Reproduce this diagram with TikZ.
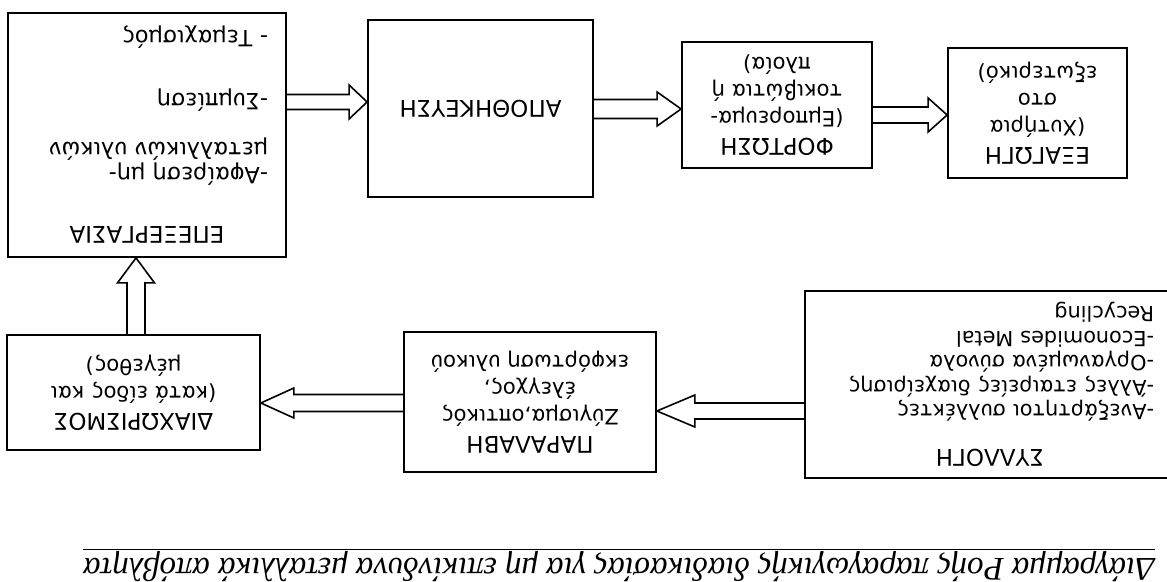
\documentclass[tikz,border=0pt]{standalone}
\usepackage{fontspec}
\setmainfont{DejaVu Sans}
\newfontfamily\captionfont{Liberation Serif}
\usepackage{tikz}
\usetikzlibrary{calc}

% hollow block arrow: shaft half width, head half width, head length
\tikzset{
    bigarrow/.style n args={3}{line width=0.8pt, to path={
        ($(\tikztostart)!#1!90:(\tikztotarget)$)
        -- ($($(\tikztotarget)!#3!(\tikztostart)$)!#1!-90:(\tikztostart)$)
        -- ($($(\tikztotarget)!#3!(\tikztostart)$)!#2!-90:(\tikztostart)$)
        -- (\tikztotarget)
        -- ($($(\tikztotarget)!#3!(\tikztostart)$)!#2!90:(\tikztostart)$)
        -- ($($(\tikztotarget)!#3!(\tikztostart)$)!#1!90:(\tikztostart)$)
        -- ($(\tikztostart)!#1!-90:(\tikztotarget)$)
    }}
}
\newcommand{\stagehead}[1]{{\fontsize{11.5}{13.5}\selectfont #1}}

\begin{document}
\begin{tikzpicture}[
    x=0.5pt, y=-0.5pt,
    box/.style={draw, line width=0.9pt, rotate=180, inner sep=0pt, align=center,
        font=\fontsize{10.6}{13.5}\selectfont},
    caption/.style={rotate=180, inner sep=0pt, font=\captionfont\itshape\fontsize{16.5}{18}\selectfont}
]
\useasboundingbox (0,0) rectangle (1167,582);
\clip (0,0) rectangle (1167,582);

% the whole page is printed upside down

% first row
\node [box, minimum width=185pt, minimum height=93.5pt, text width=164pt, align=left,
    font=\fontsize{10.4}{12.25}\selectfont] (syl) at (990,384.5)
    {{\centering\stagehead{ΣΥΛΛΟΓΗ}\par}\vspace{10pt}
     -Ανεξάρτητοι συλλέκτες\\
     -Άλλες εταιρείες διαχείρισης\\
     -Οργανωμένα σύνολα\\
     -Economides Metal\\
     Recycling};
\node [box, minimum width=126pt, minimum height=70pt] (par) at (530,402)
    {\stagehead{ΠΑΡΑΛΑΒΗ}\\Ζύγισμα,οπτικός\\έλεγχος,\\εκφόρτωση υλικού};
\node [box, minimum width=126.5pt, minimum height=57.5pt] (diax) at (133.5,392.5)
    {\stagehead{ΔΙΑΧΩΡΙΣΜΟΣ}\\(κατά είδος και\\μέγεθος)};

% second row
\node [box, minimum width=139pt, minimum height=122pt, text width=121pt, align=left,
    font=\fontsize{11.2}{12.5}\selectfont] (epex) at (147,135)
    {{\centering\stagehead{ΕΠΕΞΕΡΓΑΣΙΑ}\par}\vspace{17pt}
     -Αφαίρεση μη-\\
     μεταλλικών υλικών\\[12pt]
     -Συμπίεση\\[19pt]
     - Τεμαχισμός};
\node [box, minimum width=112.5pt, minimum height=88.5pt] (apoth) at (480.5,108.5) {\stagehead{ΑΠΟΘΗΚΕΥΣΗ}};
\node [box, minimum width=95pt, minimum height=63pt] (fort) at (777,105)
    {\stagehead{ΦΟΡΤΩΣΗ}\\(Εμπορευμα-\\τοκιβώτια ή\\πλοία)};
\node [box, minimum width=89.5pt, minimum height=65pt] (exag) at (1037.5,113)
    {\stagehead{ΕΞΑΓΩΓΗ}\\(Χυτήρια\\στο\\εξωτερικό)};

% caption
\node [caption] (title) at (619,565)
    {\underline{Διάγραμμα Ροής παραγωγικής διαδικασίας για μη επικίνδυνα μεταλλικά απόβλητα}};

% flow
\draw [bigarrow={4pt}{8pt}{19pt}] (syl.east |- 0,411) to (par.west |- 0,411);
\draw [bigarrow={4.25pt}{7.5pt}{16.5pt}] (par.east |- 0,403) to (diax.west |- 0,403);
\draw [bigarrow={4.5pt}{9.25pt}{12.5pt}] (diax.south -| 136,0) to (epex.north -| 136,0);
\draw [bigarrow={3.75pt}{8.5pt}{9pt}] (epex.west |- 0,102) to (apoth.east |- 0,102);
\draw [bigarrow={4.75pt}{8.5pt}{12pt}] (apoth.west |- 0,109) to (fort.east |- 0,109);
\draw [bigarrow={4pt}{8.5pt}{9.5pt}] (fort.west |- 0,115) to (exag.east |- 0,115);

\end{tikzpicture}
\end{document}
